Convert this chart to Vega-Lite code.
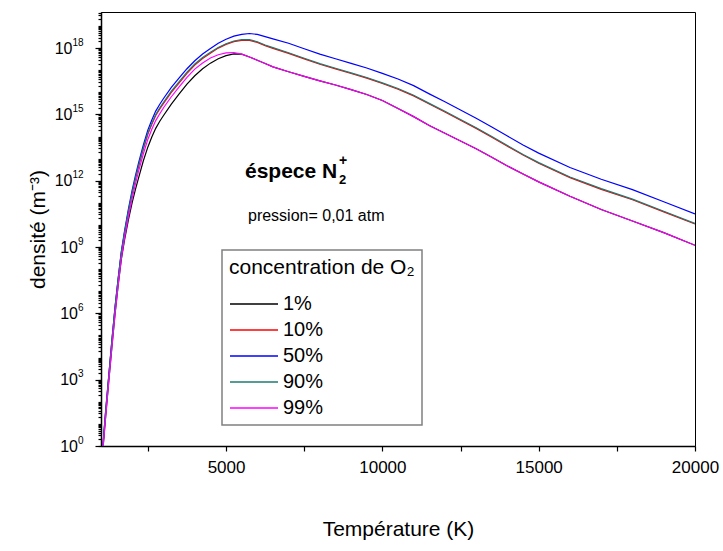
{
 "$schema": "https://vega.github.io/schema/vega-lite/v6.json",
 "width": 594,
 "height": 434,
 "autosize": {"type": "none"},
 "padding": {"left": 101, "top": 12, "right": 28, "bottom": 105},
 "background": "white",
 "config": {
   "font": "Liberation Sans",
   "view": {"stroke": "#000000", "strokeWidth": 1},
   "axis": {"grid": false, "domainColor": "#000000", "domainWidth": 1.5, "tickColor": "#000000", "tickWidth": 1.2, "labelColor": "#000000", "titleColor": "#000000", "labelFont": "Liberation Sans", "titleFont": "Liberation Sans", "titleFontWeight": "normal"},
   "legend": {"strokeWidth": 1.5}
 },
 "datasets": {
  "curves": [
   {"c": "1%", "T": 1070, "n": 1}, {"c": "1%", "T": 1150, "n": 22.4}, {"c": "1%", "T": 1250, "n": 891}, {"c": "1%", "T": 1350, "n": 3.16e4}, {"c": "1%", "T": 1450, "n": 9.55e5}, {"c": "1%", "T": 1550, "n": 1.91e7}, {"c": "1%", "T": 1650, "n": 2.75e8}, {"c": "1%", "T": 1750, "n": 2.0e9}, {"c": "1%", "T": 1875, "n": 1.66e10}, {"c": "1%", "T": 2000, "n": 1.07e11}, {"c": "1%", "T": 2100, "n": 3.98e11}, {"c": "1%", "T": 2200, "n": 1.32e12}, {"c": "1%", "T": 2350, "n": 7.59e12}, {"c": "1%", "T": 2500, "n": 3.39e13}, {"c": "1%", "T": 2625, "n": 9.55e13}, {"c": "1%", "T": 2750, "n": 2.34e14}, {"c": "1%", "T": 2875, "n": 4.79e14}, {"c": "1%", "T": 3000, "n": 8.91e14}, {"c": "1%", "T": 3250, "n": 2.95e15}, {"c": "1%", "T": 3500, "n": 8.51e15}, {"c": "1%", "T": 3750, "n": 2.34e16}, {"c": "1%", "T": 4000, "n": 5.62e16}, {"c": "1%", "T": 4250, "n": 1.17e17}, {"c": "1%", "T": 4500, "n": 2.09e17}, {"c": "1%", "T": 4750, "n": 3.31e17}, {"c": "1%", "T": 5000, "n": 4.57e17}, {"c": "1%", "T": 5250, "n": 5.5e17}, {"c": "1%", "T": 5500, "n": 5.37e17}, {"c": "1%", "T": 5750, "n": 3.98e17}, {"c": "1%", "T": 6000, "n": 2.82e17}, {"c": "1%", "T": 6250, "n": 2.0e17}, {"c": "1%", "T": 6500, "n": 1.41e17}, {"c": "1%", "T": 7000, "n": 8.51e16}, {"c": "1%", "T": 7500, "n": 5.25e16}, {"c": "1%", "T": 8000, "n": 3.31e16}, {"c": "1%", "T": 8500, "n": 2.14e16}, {"c": "1%", "T": 9000, "n": 1.32e16}, {"c": "1%", "T": 9500, "n": 7.94e15}, {"c": "1%", "T": 10000, "n": 4.27e15}, {"c": "1%", "T": 10500, "n": 1.86e15}, {"c": "1%", "T": 11000, "n": 7.94e14}, {"c": "1%", "T": 11500, "n": 3.16e14}, {"c": "1%", "T": 12000, "n": 1.41e14}, {"c": "1%", "T": 12500, "n": 6.31e13}, {"c": "1%", "T": 13000, "n": 2.82e13}, {"c": "1%", "T": 13500, "n": 1.15e13}, {"c": "1%", "T": 14000, "n": 4.68e12}, {"c": "1%", "T": 14500, "n": 2.0e12}, {"c": "1%", "T": 15000, "n": 8.91e11}, {"c": "1%", "T": 16000, "n": 2.0e11}, {"c": "1%", "T": 17000, "n": 5.01e10}, {"c": "1%", "T": 18000, "n": 1.51e10}, {"c": "1%", "T": 19000, "n": 4.47e9}, {"c": "1%", "T": 20000, "n": 1.2e9},

   {"c": "10%", "T": 1060, "n": 1}, {"c": "10%", "T": 1150, "n": 36}, {"c": "10%", "T": 1250, "n": 1450}, {"c": "10%", "T": 1350, "n": 5.75e4}, {"c": "10%", "T": 1450, "n": 1.74e6}, {"c": "10%", "T": 1550, "n": 3.39e7}, {"c": "10%", "T": 1650, "n": 5.25e8}, {"c": "10%", "T": 1750, "n": 3.98e9}, {"c": "10%", "T": 1875, "n": 3.8e10}, {"c": "10%", "T": 2000, "n": 2.82e11}, {"c": "10%", "T": 2100, "n": 1.17e12}, {"c": "10%", "T": 2200, "n": 4.27e12}, {"c": "10%", "T": 2350, "n": 2.63e13}, {"c": "10%", "T": 2500, "n": 1.29e14}, {"c": "10%", "T": 2625, "n": 3.55e14}, {"c": "10%", "T": 2750, "n": 8.91e14}, {"c": "10%", "T": 2875, "n": 1.74e15}, {"c": "10%", "T": 3000, "n": 3.16e15}, {"c": "10%", "T": 3250, "n": 1.0e16}, {"c": "10%", "T": 3500, "n": 2.69e16}, {"c": "10%", "T": 3750, "n": 7.24e16}, {"c": "10%", "T": 4000, "n": 1.7e17}, {"c": "10%", "T": 4250, "n": 3.39e17}, {"c": "10%", "T": 4500, "n": 5.89e17}, {"c": "10%", "T": 4750, "n": 1.0e18}, {"c": "10%", "T": 5000, "n": 1.48e18}, {"c": "10%", "T": 5250, "n": 1.95e18}, {"c": "10%", "T": 5500, "n": 2.24e18}, {"c": "10%", "T": 5750, "n": 2.24e18}, {"c": "10%", "T": 6000, "n": 1.82e18}, {"c": "10%", "T": 6250, "n": 1.29e18}, {"c": "10%", "T": 6500, "n": 9.77e17}, {"c": "10%", "T": 7000, "n": 5.75e17}, {"c": "10%", "T": 7500, "n": 3.24e17}, {"c": "10%", "T": 8000, "n": 1.86e17}, {"c": "10%", "T": 8500, "n": 1.15e17}, {"c": "10%", "T": 9000, "n": 7.08e16}, {"c": "10%", "T": 9500, "n": 4.37e16}, {"c": "10%", "T": 10000, "n": 2.51e16}, {"c": "10%", "T": 10500, "n": 1.38e16}, {"c": "10%", "T": 11000, "n": 6.92e15}, {"c": "10%", "T": 11500, "n": 2.95e15}, {"c": "10%", "T": 12000, "n": 1.29e15}, {"c": "10%", "T": 12500, "n": 5.5e14}, {"c": "10%", "T": 13000, "n": 2.34e14}, {"c": "10%", "T": 13500, "n": 9.33e13}, {"c": "10%", "T": 14000, "n": 3.63e13}, {"c": "10%", "T": 14500, "n": 1.45e13}, {"c": "10%", "T": 15000, "n": 6.17e12}, {"c": "10%", "T": 16000, "n": 1.38e12}, {"c": "10%", "T": 17000, "n": 4.07e11}, {"c": "10%", "T": 18000, "n": 1.38e11}, {"c": "10%", "T": 19000, "n": 3.89e10}, {"c": "10%", "T": 20000, "n": 1.1e10},

   {"c": "50%", "T": 1060, "n": 1}, {"c": "50%", "T": 1150, "n": 39.8}, {"c": "50%", "T": 1250, "n": 1585}, {"c": "50%", "T": 1350, "n": 6.31e4}, {"c": "50%", "T": 1450, "n": 2.0e6}, {"c": "50%", "T": 1550, "n": 3.98e7}, {"c": "50%", "T": 1650, "n": 6.31e8}, {"c": "50%", "T": 1750, "n": 5.01e9}, {"c": "50%", "T": 1875, "n": 5.01e10}, {"c": "50%", "T": 2000, "n": 3.98e11}, {"c": "50%", "T": 2100, "n": 1.66e12}, {"c": "50%", "T": 2200, "n": 6.31e12}, {"c": "50%", "T": 2350, "n": 3.98e13}, {"c": "50%", "T": 2500, "n": 2.0e14}, {"c": "50%", "T": 2625, "n": 5.62e14}, {"c": "50%", "T": 2750, "n": 1.41e15}, {"c": "50%", "T": 2875, "n": 2.82e15}, {"c": "50%", "T": 3000, "n": 5.25e15}, {"c": "50%", "T": 3250, "n": 1.66e16}, {"c": "50%", "T": 3500, "n": 4.47e16}, {"c": "50%", "T": 3750, "n": 1.17e17}, {"c": "50%", "T": 4000, "n": 2.69e17}, {"c": "50%", "T": 4250, "n": 5.37e17}, {"c": "50%", "T": 4500, "n": 9.55e17}, {"c": "50%", "T": 4750, "n": 1.66e18}, {"c": "50%", "T": 5000, "n": 2.51e18}, {"c": "50%", "T": 5250, "n": 3.47e18}, {"c": "50%", "T": 5500, "n": 4.17e18}, {"c": "50%", "T": 5750, "n": 4.57e18}, {"c": "50%", "T": 6000, "n": 4.17e18}, {"c": "50%", "T": 6250, "n": 3.31e18}, {"c": "50%", "T": 6500, "n": 2.63e18}, {"c": "50%", "T": 7000, "n": 1.66e18}, {"c": "50%", "T": 7500, "n": 9.33e17}, {"c": "50%", "T": 8000, "n": 5.37e17}, {"c": "50%", "T": 8500, "n": 3.31e17}, {"c": "50%", "T": 9000, "n": 2.04e17}, {"c": "50%", "T": 9500, "n": 1.26e17}, {"c": "50%", "T": 10000, "n": 7.24e16}, {"c": "50%", "T": 10500, "n": 3.98e16}, {"c": "50%", "T": 11000, "n": 2.0e16}, {"c": "50%", "T": 11500, "n": 8.51e15}, {"c": "50%", "T": 12000, "n": 3.72e15}, {"c": "50%", "T": 12500, "n": 1.58e15}, {"c": "50%", "T": 13000, "n": 6.76e14}, {"c": "50%", "T": 13500, "n": 2.69e14}, {"c": "50%", "T": 14000, "n": 1.05e14}, {"c": "50%", "T": 14500, "n": 4.17e13}, {"c": "50%", "T": 15000, "n": 1.78e13}, {"c": "50%", "T": 16000, "n": 3.98e12}, {"c": "50%", "T": 17000, "n": 1.17e12}, {"c": "50%", "T": 18000, "n": 3.98e11}, {"c": "50%", "T": 19000, "n": 1.12e11}, {"c": "50%", "T": 20000, "n": 3.16e10},

   {"c": "90%", "T": 1060, "n": 1}, {"c": "90%", "T": 1150, "n": 39.8}, {"c": "90%", "T": 1250, "n": 1585}, {"c": "90%", "T": 1350, "n": 6.31e4}, {"c": "90%", "T": 1450, "n": 1.91e6}, {"c": "90%", "T": 1550, "n": 3.72e7}, {"c": "90%", "T": 1650, "n": 5.75e8}, {"c": "90%", "T": 1750, "n": 4.37e9}, {"c": "90%", "T": 1875, "n": 4.17e10}, {"c": "90%", "T": 2000, "n": 3.16e11}, {"c": "90%", "T": 2100, "n": 1.32e12}, {"c": "90%", "T": 2200, "n": 4.79e12}, {"c": "90%", "T": 2350, "n": 2.95e13}, {"c": "90%", "T": 2500, "n": 1.45e14}, {"c": "90%", "T": 2625, "n": 3.98e14}, {"c": "90%", "T": 2750, "n": 1.0e15}, {"c": "90%", "T": 2875, "n": 1.95e15}, {"c": "90%", "T": 3000, "n": 3.55e15}, {"c": "90%", "T": 3250, "n": 1.12e16}, {"c": "90%", "T": 3500, "n": 3.02e16}, {"c": "90%", "T": 3750, "n": 8.13e16}, {"c": "90%", "T": 4000, "n": 1.91e17}, {"c": "90%", "T": 4250, "n": 3.72e17}, {"c": "90%", "T": 4500, "n": 6.46e17}, {"c": "90%", "T": 4750, "n": 1.07e18}, {"c": "90%", "T": 5000, "n": 1.58e18}, {"c": "90%", "T": 5250, "n": 2.09e18}, {"c": "90%", "T": 5500, "n": 2.4e18}, {"c": "90%", "T": 5750, "n": 2.4e18}, {"c": "90%", "T": 6000, "n": 1.95e18}, {"c": "90%", "T": 6250, "n": 1.38e18}, {"c": "90%", "T": 6500, "n": 1.05e18}, {"c": "90%", "T": 7000, "n": 6.17e17}, {"c": "90%", "T": 7500, "n": 3.47e17}, {"c": "90%", "T": 8000, "n": 2.0e17}, {"c": "90%", "T": 8500, "n": 1.23e17}, {"c": "90%", "T": 9000, "n": 7.59e16}, {"c": "90%", "T": 9500, "n": 4.68e16}, {"c": "90%", "T": 10000, "n": 2.69e16}, {"c": "90%", "T": 10500, "n": 1.48e16}, {"c": "90%", "T": 11000, "n": 7.41e15}, {"c": "90%", "T": 11500, "n": 3.16e15}, {"c": "90%", "T": 12000, "n": 1.38e15}, {"c": "90%", "T": 12500, "n": 5.89e14}, {"c": "90%", "T": 13000, "n": 2.51e14}, {"c": "90%", "T": 13500, "n": 1.0e14}, {"c": "90%", "T": 14000, "n": 3.89e13}, {"c": "90%", "T": 14500, "n": 1.55e13}, {"c": "90%", "T": 15000, "n": 6.61e12}, {"c": "90%", "T": 16000, "n": 1.48e12}, {"c": "90%", "T": 17000, "n": 4.37e11}, {"c": "90%", "T": 18000, "n": 1.48e11}, {"c": "90%", "T": 19000, "n": 4.17e10}, {"c": "90%", "T": 20000, "n": 1.17e10},

   {"c": "99%", "T": 1070, "n": 1}, {"c": "99%", "T": 1150, "n": 22.4}, {"c": "99%", "T": 1250, "n": 891}, {"c": "99%", "T": 1350, "n": 3.16e4}, {"c": "99%", "T": 1450, "n": 9.55e5}, {"c": "99%", "T": 1550, "n": 2.0e7}, {"c": "99%", "T": 1650, "n": 3.02e8}, {"c": "99%", "T": 1750, "n": 2.4e9}, {"c": "99%", "T": 1875, "n": 2.24e10}, {"c": "99%", "T": 2000, "n": 1.66e11}, {"c": "99%", "T": 2100, "n": 7.08e11}, {"c": "99%", "T": 2200, "n": 2.63e12}, {"c": "99%", "T": 2350, "n": 1.58e13}, {"c": "99%", "T": 2500, "n": 7.59e13}, {"c": "99%", "T": 2625, "n": 2.14e14}, {"c": "99%", "T": 2750, "n": 5.25e14}, {"c": "99%", "T": 2875, "n": 1.05e15}, {"c": "99%", "T": 3000, "n": 2.0e15}, {"c": "99%", "T": 3250, "n": 6.31e15}, {"c": "99%", "T": 3500, "n": 1.78e16}, {"c": "99%", "T": 3750, "n": 4.79e16}, {"c": "99%", "T": 4000, "n": 1.12e17}, {"c": "99%", "T": 4250, "n": 2.14e17}, {"c": "99%", "T": 4500, "n": 3.55e17}, {"c": "99%", "T": 4750, "n": 5.01e17}, {"c": "99%", "T": 5000, "n": 6.03e17}, {"c": "99%", "T": 5250, "n": 6.31e17}, {"c": "99%", "T": 5500, "n": 5.37e17}, {"c": "99%", "T": 5750, "n": 3.98e17}, {"c": "99%", "T": 6000, "n": 2.82e17}, {"c": "99%", "T": 6250, "n": 2.0e17}, {"c": "99%", "T": 6500, "n": 1.41e17}, {"c": "99%", "T": 7000, "n": 8.51e16}, {"c": "99%", "T": 7500, "n": 5.25e16}, {"c": "99%", "T": 8000, "n": 3.31e16}, {"c": "99%", "T": 8500, "n": 2.14e16}, {"c": "99%", "T": 9000, "n": 1.32e16}, {"c": "99%", "T": 9500, "n": 7.94e15}, {"c": "99%", "T": 10000, "n": 4.27e15}, {"c": "99%", "T": 10500, "n": 1.86e15}, {"c": "99%", "T": 11000, "n": 7.94e14}, {"c": "99%", "T": 11500, "n": 3.16e14}, {"c": "99%", "T": 12000, "n": 1.41e14}, {"c": "99%", "T": 12500, "n": 6.31e13}, {"c": "99%", "T": 13000, "n": 2.82e13}, {"c": "99%", "T": 13500, "n": 1.15e13}, {"c": "99%", "T": 14000, "n": 4.68e12}, {"c": "99%", "T": 14500, "n": 2.0e12}, {"c": "99%", "T": 15000, "n": 8.91e11}, {"c": "99%", "T": 16000, "n": 2.0e11}, {"c": "99%", "T": 17000, "n": 5.01e10}, {"c": "99%", "T": 18000, "n": 1.51e10}, {"c": "99%", "T": 19000, "n": 4.47e9}, {"c": "99%", "T": 20000, "n": 1.2e9}
  ]
 },
 "layer": [
  {
   "data": {"name": "curves"},
   "mark": {"type": "line", "strokeWidth": 1.2, "clip": true},
   "encoding": {
     "x": {"field": "T", "type": "quantitative", "scale": {"domain": [1000, 20000], "nice": false, "zero": false},
       "axis": {"orient": "bottom", "values": [5000, 10000, 15000, 20000], "format": "d", "tickSize": 5, "labelFontSize": 17, "labelPadding": 8, "title": "Température (K)", "titleFontSize": 21, "titlePadding": 43, "labelFlush": false, "labelOverlap": false}},
     "y": {"field": "n", "type": "quantitative", "scale": {"type": "log", "domain": [1, 4.3e19], "nice": false},
       "axis": {"orient": "left", "values": [1, 1000, 1000000, 1000000000, 1e12, 1e15, 1e18], "labelExpr": "'10'", "tickSize": 6, "labelFontSize": 16, "labelPadding": {"condition": {"test": "datum.value >= 1e12", "value": 23}, "value": 17.5}, "title": "densité (m⁻³)", "titleFontSize": 21, "titlePadding": 6, "labelFlush": false, "labelOverlap": false}},
     "color": {"field": "c", "type": "nominal",
       "scale": {"domain": ["1%", "10%", "50%", "90%", "99%"], "range": ["#000000", "#ff0000", "#0000ff", "#1f7a72", "#ff00ff"]},
       "legend": {"orient": "none", "legendX": 121, "legendY": 238, "title": "concentration de O₂", "titleLimit": 400, "titleFontSize": 21, "titleFontWeight": "normal", "titleColor": "#000000", "titleFont": "Liberation Sans", "labelFont": "Liberation Sans", "labelFontSize": 20, "labelColor": "#000000", "symbolType": "stroke", "symbolSize": 2304, "symbolStrokeWidth": 1.3, "strokeColor": "#808080", "fillColor": "#ffffff", "padding": 7, "clipHeight": 20, "rowPadding": 6, "labelOffset": 4, "titlePadding": 16}}
   }
  },
  {
   "data": {"values": [{"t": "pression= 0,01 atm"}]},
   "mark": {"type": "text", "align": "left", "baseline": "middle", "fontSize": 16, "font": "Liberation Sans", "color": "#000000"},
   "encoding": {
     "x": {"datum": 5702, "type": "quantitative", "axis": {"orient": "bottom", "values": [2500, 7500, 12500, 17500], "labels": false, "domain": false, "tickSize": 5, "title": null}},
     "y": {"datum": 2.5e10, "type": "quantitative", "axis": {"orient": "left", "tickCount": 200, "labels": false, "domain": false, "tickSize": 3, "title": null}},
     "text": {"field": "t"}
   }
  },
  {
   "data": {"values": [{"t": "éspece N"}]},
   "mark": {"type": "text", "align": "left", "baseline": "alphabetic", "fontSize": 21, "fontWeight": "bold", "font": "Liberation Sans", "color": "#000000"},
   "encoding": {
     "x": {"datum": 5606, "type": "quantitative", "axis": null},
     "y": {"datum": 1.3e12, "type": "quantitative", "axis": {"orient": "left", "values": [1, 1000, 1000000, 1000000000, 1e12, 1e15, 1e18], "labelExpr": "datum.value == 1 ? '0' : datum.value == 1000 ? '3' : datum.value == 1000000 ? '6' : datum.value == 1000000000 ? '9' : datum.value == 1e12 ? '12' : datum.value == 1e15 ? '15' : '18'", "ticks": false, "domain": false, "labelFontSize": 10, "labelPadding": 18, "labelOffset": -6, "labelFlush": false, "labelOverlap": false, "title": null}},
     "text": {"field": "t"}
   }
  },
  {
   "data": {"values": [{"t": "2"}]},
   "mark": {"type": "text", "align": "left", "baseline": "alphabetic", "fontSize": 13, "fontWeight": "bold", "font": "Liberation Sans", "color": "#000000"},
   "encoding": {
     "x": {"datum": 8613, "type": "quantitative", "axis": null},
     "y": {"datum": 7e11, "type": "quantitative", "axis": null},
     "text": {"field": "t"}
   }
  },
  {
   "data": {"values": [{"t": "+"}]},
   "mark": {"type": "text", "align": "left", "baseline": "alphabetic", "fontSize": 14, "fontWeight": "bold", "font": "Liberation Sans", "color": "#000000"},
   "encoding": {
     "x": {"datum": 8613, "type": "quantitative", "axis": null},
     "y": {"datum": 5e12, "type": "quantitative", "axis": null},
     "text": {"field": "t"}
   }
  }
 ],
 "resolve": {"axis": {"x": "independent", "y": "independent"}}
}
